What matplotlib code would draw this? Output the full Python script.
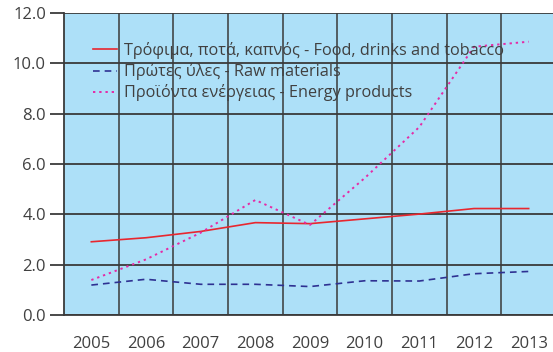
import matplotlib
matplotlib.use("Agg")
import matplotlib.pyplot as plt
from matplotlib.ticker import FixedLocator

plt.rcParams['font.family'] = ['Open Sans', 'DejaVu Sans']

years = ["2005", "2006", "2007", "2008", "2009", "2010", "2011", "2012", "2013"]
food = [2.91, 3.07, 3.32, 3.67, 3.63, 3.82, 4.01, 4.23, 4.23]
raw = [1.19, 1.42, 1.22, 1.22, 1.13, 1.36, 1.35, 1.64, 1.73]
energy = [1.39, 2.21, 3.27, 4.57, 3.58, 5.44, 7.47, 10.66, 10.86]

labels = [
    "Τρόφιμα, ποτά, καπνός - Food, drinks and tobacco",
    "Πρώτες ύλες - Raw materials",
    "Προϊόντα ενέργειας - Energy products",
]

text_color = "#404040"
grid_color = "#3a3a3a"

W, H = 553, 352
fig = plt.figure(figsize=(W / 100, H / 100), dpi=100)
ax = fig.add_axes([64 / W, 1 - 315 / H, 492 / W, 302 / H])
ax.set_facecolor("#ade0f8")

x = range(len(years))
ax.plot(x, food, color="#e8272f", lw=1.2, ls="-", label=labels[0])
ax.plot(x, raw, color="#2e3192", lw=1.2, ls=(0, (4, 3)), label=labels[1])
ax.plot(x, energy, color="#e52ba6", lw=1.4, ls=(0, (1.2, 2)), label=labels[2])

ax.set_xlim(-0.5, len(years) - 0.5)
ax.set_ylim(0, 12)
ax.set_xticks(list(x))
ax.set_xticklabels(years)
ax.xaxis.set_minor_locator(FixedLocator([i + 0.5 for i in range(len(years) - 1)]))
ax.set_yticks([0, 2, 4, 6, 8, 10, 12])
ax.set_yticklabels([f"{v:.1f}" for v in [0, 2, 4, 6, 8, 10, 12]])

ax.tick_params(axis="x", which="major", length=0, pad=15, labelsize=12, colors=text_color)
ax.tick_params(axis="x", which="minor", length=0)
ax.tick_params(axis="y", which="major", length=10, width=1.3, color=grid_color,
               pad=3, labelsize=12, labelcolor=text_color)

ax.grid(True, axis="y", which="major", color=grid_color, lw=1.3)
ax.grid(True, axis="x", which="minor", color=grid_color, lw=1.3, alpha=0.85)
ax.set_axisbelow(True)

for side in ["top", "right"]:
    ax.spines[side].set_visible(False)
for side in ["left", "bottom"]:
    ax.spines[side].set_color(grid_color)
    ax.spines[side].set_linewidth(1.3)

leg = ax.legend(loc="upper left", bbox_to_anchor=(85 / W, 1 - 34 / H),
                bbox_transform=fig.transFigure, frameon=False,
                fontsize=11.7, handlelength=1.45, handletextpad=0.45,
                labelspacing=0.25, borderpad=0)
for t in leg.get_texts():
    t.set_color(text_color)

fig.savefig("out.png", dpi=100)
